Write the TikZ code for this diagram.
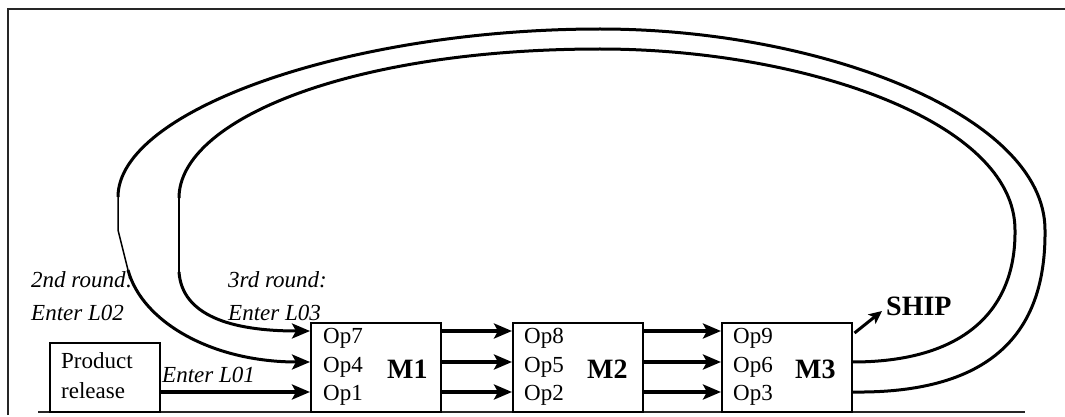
\documentclass[tikz,border=0pt]{standalone}
\usepackage{fontspec}
\setmainfont{Liberation Serif}
\usetikzlibrary{arrows.meta,calc}

\tikzset{
  frameline/.style={line width=2pt, black!85},
  box/.style={draw, line width=1.5pt, rectangle, inner sep=0pt, anchor=north west},
  machine/.style={box, minimum width=130pt, minimum height=89pt},
  optxt/.style={inner sep=0pt, anchor=base west, font=\fontsize{23}{27}\selectfont},
  mtxt/.style={inner sep=0pt, anchor=base west, font=\fontsize{28}{32}\selectfont\bfseries},
  lab/.style={inner sep=0pt, anchor=base west, font=\fontsize{23}{27}\selectfont\itshape},
  flow/.style={line width=3.6pt, -{Stealth[length=18pt,width=15pt,inset=4pt]}},
  loopthick/.style={line width=3pt},
  loopthin/.style={line width=1.5pt},
  looparrow/.style={line width=3pt, -{Stealth[length=18pt,width=15pt,inset=4pt]}},
  shiparrow/.style={line width=3pt, -{Stealth[length=13pt,width=12pt,inset=3pt]}},
}

\begin{document}
\begin{tikzpicture}[x=1pt,y=-1pt]
  \useasboundingbox (0,0) rectangle (1065,417);

  % outline of the page area
  \draw[frameline] (8,415) -- (8,9) -- (1065,9);
  \draw[frameline] (38,412) -- (1025,412);

  % rows of operations
  \coordinate (r1) at (0,331);
  \coordinate (r2) at (0,362);
  \coordinate (r3) at (0,392);

  % product release
  \node[box, minimum width=110pt, minimum height=69pt] (prod) at (49,342) {};
  \node[optxt] (prodA) at (61,368) {Product};
  \node[optxt] (prodB) at (61,398) {release};

  % machines
  \node[machine] (m1) at (310,322) {};
  \node[machine] (m2) at (512,322) {};
  \node[machine] (m3) at (721,322) {};

  \node[optxt] (op7) at (323,343) {Op7};
  \node[optxt] (op4) at (323,372) {Op4};
  \node[optxt] (op1) at (323,400) {Op1};
  \node[mtxt]  (l1)  at (387,378) {M1};

  \node[optxt] (op8) at (524,343) {Op8};
  \node[optxt] (op5) at (524,372) {Op5};
  \node[optxt] (op2) at (524,400) {Op2};
  \node[mtxt]  (l2)  at (587,378) {M2};

  \node[optxt] (op9) at (733,343) {Op9};
  \node[optxt] (op6) at (733,372) {Op6};
  \node[optxt] (op3) at (733,400) {Op3};
  \node[mtxt]  (l3)  at (795,378) {M3};

  % labels
  \node[lab] (t2a) at (31,287) {2nd round:};
  \node[lab] (t2b) at (31,320) {Enter L02};
  \node[lab] (t3a) at (228,287) {3rd round:};
  \node[lab] (t3b) at (228,320) {Enter L03};
  \node[lab] (t1)  at (162,382) {Enter L01};

  \node[mtxt] (ship) at (886,315) {SHIP};

  % straight flows
  \draw[flow] (prod.east |- r3) -- (m1.west |- r3);
  \foreach \r in {r1,r2,r3}{
    \draw[flow] (m1.east |- \r) -- (m2.west |- \r);
    \draw[flow] (m2.east |- \r) -- (m3.west |- \r);
  }
  \draw[shiparrow] ($(m3.north east)+(2,11)$) -- ($(ship.base west)+(-4,-4)$);

  % return loop: Op3 -> Op4 (outer)
  \coordinate (oA) at (1045,230);
  \coordinate (oB) at (600,29);
  \coordinate (oC) at (118,197);
  \coordinate (oD) at (118,230);
  \coordinate (oE) at (128,270);
  \draw[loopthick] (m3.east |- r3) .. controls (1005,394) and (1046,320) .. (oA)
     .. controls (1045,115) and (820,29) .. (oB)
     .. controls (350,29) and (118,110) .. (oC);
  \draw[loopthin] (oC) -- (oD) -- (oE);
  \draw[looparrow] (oE) .. controls (142,322) and (212,362) .. (m1.west |- r2);

  % return loop: Op6 -> Op7 (inner)
  \coordinate (iA) at (1015,230);
  \coordinate (iB) at (600,49);
  \coordinate (iC) at (179,198);
  \coordinate (iD) at (179,272);
  \draw[loopthick] (m3.east |- r2) .. controls (962,362) and (1016,312) .. (iA)
     .. controls (1015,120) and (800,49) .. (iB)
     .. controls (350,49) and (179,120) .. (iC);
  \draw[loopthin] (iC) -- (iD);
  \draw[looparrow] (iD) .. controls (182,315) and (230,331) .. (m1.west |- r1);
\end{tikzpicture}
\end{document}
